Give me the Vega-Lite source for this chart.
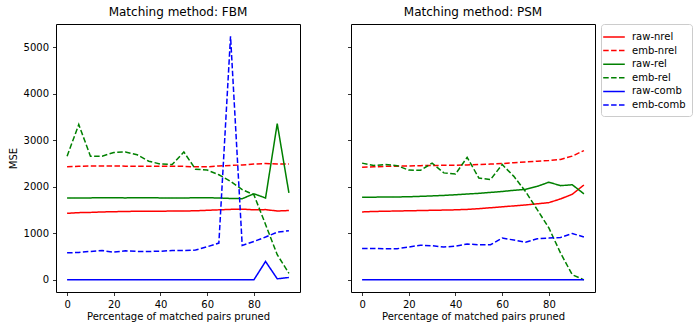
{
  "$schema": "https://vega.github.io/schema/vega-lite/v6.json",
  "padding": {"left": 7, "top": 5, "right": 5, "bottom": 5},
  "datasets": {
    "d": [
      {"m":"FBM","s":"raw-nrel","x":0,"y":1430},{"m":"FBM","s":"raw-nrel","x":5,"y":1445},{"m":"FBM","s":"raw-nrel","x":10,"y":1450},{"m":"FBM","s":"raw-nrel","x":15,"y":1460},{"m":"FBM","s":"raw-nrel","x":20,"y":1465},{"m":"FBM","s":"raw-nrel","x":25,"y":1470},{"m":"FBM","s":"raw-nrel","x":30,"y":1475},{"m":"FBM","s":"raw-nrel","x":35,"y":1475},{"m":"FBM","s":"raw-nrel","x":40,"y":1475},{"m":"FBM","s":"raw-nrel","x":45,"y":1480},{"m":"FBM","s":"raw-nrel","x":50,"y":1480},{"m":"FBM","s":"raw-nrel","x":55,"y":1485},{"m":"FBM","s":"raw-nrel","x":60,"y":1495},{"m":"FBM","s":"raw-nrel","x":65,"y":1505},{"m":"FBM","s":"raw-nrel","x":70,"y":1515},{"m":"FBM","s":"raw-nrel","x":75,"y":1520},{"m":"FBM","s":"raw-nrel","x":80,"y":1505},{"m":"FBM","s":"raw-nrel","x":85,"y":1510},{"m":"FBM","s":"raw-nrel","x":90,"y":1480},{"m":"FBM","s":"raw-nrel","x":95,"y":1490},
      {"m":"FBM","s":"emb-nrel","x":0,"y":2430},{"m":"FBM","s":"emb-nrel","x":5,"y":2440},{"m":"FBM","s":"emb-nrel","x":10,"y":2450},{"m":"FBM","s":"emb-nrel","x":15,"y":2450},{"m":"FBM","s":"emb-nrel","x":20,"y":2450},{"m":"FBM","s":"emb-nrel","x":25,"y":2445},{"m":"FBM","s":"emb-nrel","x":30,"y":2445},{"m":"FBM","s":"emb-nrel","x":35,"y":2445},{"m":"FBM","s":"emb-nrel","x":40,"y":2440},{"m":"FBM","s":"emb-nrel","x":45,"y":2440},{"m":"FBM","s":"emb-nrel","x":50,"y":2440},{"m":"FBM","s":"emb-nrel","x":55,"y":2430},{"m":"FBM","s":"emb-nrel","x":60,"y":2430},{"m":"FBM","s":"emb-nrel","x":65,"y":2450},{"m":"FBM","s":"emb-nrel","x":70,"y":2460},{"m":"FBM","s":"emb-nrel","x":75,"y":2470},{"m":"FBM","s":"emb-nrel","x":80,"y":2490},{"m":"FBM","s":"emb-nrel","x":85,"y":2500},{"m":"FBM","s":"emb-nrel","x":90,"y":2490},{"m":"FBM","s":"emb-nrel","x":95,"y":2490},
      {"m":"FBM","s":"raw-rel","x":0,"y":1760},{"m":"FBM","s":"raw-rel","x":5,"y":1762},{"m":"FBM","s":"raw-rel","x":10,"y":1762},{"m":"FBM","s":"raw-rel","x":15,"y":1765},{"m":"FBM","s":"raw-rel","x":20,"y":1765},{"m":"FBM","s":"raw-rel","x":25,"y":1762},{"m":"FBM","s":"raw-rel","x":30,"y":1765},{"m":"FBM","s":"raw-rel","x":35,"y":1765},{"m":"FBM","s":"raw-rel","x":40,"y":1762},{"m":"FBM","s":"raw-rel","x":45,"y":1762},{"m":"FBM","s":"raw-rel","x":50,"y":1760},{"m":"FBM","s":"raw-rel","x":55,"y":1765},{"m":"FBM","s":"raw-rel","x":60,"y":1765},{"m":"FBM","s":"raw-rel","x":65,"y":1760},{"m":"FBM","s":"raw-rel","x":70,"y":1750},{"m":"FBM","s":"raw-rel","x":75,"y":1745},{"m":"FBM","s":"raw-rel","x":80,"y":1850},{"m":"FBM","s":"raw-rel","x":85,"y":1760},{"m":"FBM","s":"raw-rel","x":90,"y":3360},{"m":"FBM","s":"raw-rel","x":95,"y":1870},
      {"m":"FBM","s":"emb-rel","x":0,"y":2660},{"m":"FBM","s":"emb-rel","x":5,"y":3340},{"m":"FBM","s":"emb-rel","x":10,"y":2660},{"m":"FBM","s":"emb-rel","x":15,"y":2660},{"m":"FBM","s":"emb-rel","x":20,"y":2740},{"m":"FBM","s":"emb-rel","x":25,"y":2750},{"m":"FBM","s":"emb-rel","x":30,"y":2690},{"m":"FBM","s":"emb-rel","x":35,"y":2550},{"m":"FBM","s":"emb-rel","x":40,"y":2490},{"m":"FBM","s":"emb-rel","x":45,"y":2480},{"m":"FBM","s":"emb-rel","x":50,"y":2750},{"m":"FBM","s":"emb-rel","x":55,"y":2380},{"m":"FBM","s":"emb-rel","x":60,"y":2360},{"m":"FBM","s":"emb-rel","x":65,"y":2260},{"m":"FBM","s":"emb-rel","x":70,"y":2120},{"m":"FBM","s":"emb-rel","x":75,"y":1940},{"m":"FBM","s":"emb-rel","x":80,"y":1830},{"m":"FBM","s":"emb-rel","x":85,"y":1190},{"m":"FBM","s":"emb-rel","x":90,"y":540},{"m":"FBM","s":"emb-rel","x":95,"y":140},
      {"m":"FBM","s":"raw-comb","x":0,"y":0},{"m":"FBM","s":"raw-comb","x":5,"y":0},{"m":"FBM","s":"raw-comb","x":10,"y":0},{"m":"FBM","s":"raw-comb","x":15,"y":0},{"m":"FBM","s":"raw-comb","x":20,"y":0},{"m":"FBM","s":"raw-comb","x":25,"y":0},{"m":"FBM","s":"raw-comb","x":30,"y":0},{"m":"FBM","s":"raw-comb","x":35,"y":0},{"m":"FBM","s":"raw-comb","x":40,"y":0},{"m":"FBM","s":"raw-comb","x":45,"y":0},{"m":"FBM","s":"raw-comb","x":50,"y":0},{"m":"FBM","s":"raw-comb","x":55,"y":0},{"m":"FBM","s":"raw-comb","x":60,"y":0},{"m":"FBM","s":"raw-comb","x":65,"y":0},{"m":"FBM","s":"raw-comb","x":70,"y":0},{"m":"FBM","s":"raw-comb","x":75,"y":0},{"m":"FBM","s":"raw-comb","x":80,"y":0},{"m":"FBM","s":"raw-comb","x":85,"y":395},{"m":"FBM","s":"raw-comb","x":90,"y":22},{"m":"FBM","s":"raw-comb","x":95,"y":50},
      {"m":"FBM","s":"emb-comb","x":0,"y":580},{"m":"FBM","s":"emb-comb","x":5,"y":590},{"m":"FBM","s":"emb-comb","x":10,"y":610},{"m":"FBM","s":"emb-comb","x":15,"y":630},{"m":"FBM","s":"emb-comb","x":20,"y":595},{"m":"FBM","s":"emb-comb","x":25,"y":625},{"m":"FBM","s":"emb-comb","x":30,"y":610},{"m":"FBM","s":"emb-comb","x":35,"y":610},{"m":"FBM","s":"emb-comb","x":40,"y":615},{"m":"FBM","s":"emb-comb","x":45,"y":630},{"m":"FBM","s":"emb-comb","x":50,"y":630},{"m":"FBM","s":"emb-comb","x":55,"y":640},{"m":"FBM","s":"emb-comb","x":60,"y":710},{"m":"FBM","s":"emb-comb","x":65,"y":790},{"m":"FBM","s":"emb-comb","x":70,"y":5240},{"m":"FBM","s":"emb-comb","x":75,"y":740},{"m":"FBM","s":"emb-comb","x":80,"y":825},{"m":"FBM","s":"emb-comb","x":85,"y":920},{"m":"FBM","s":"emb-comb","x":90,"y":1025},{"m":"FBM","s":"emb-comb","x":95,"y":1055},
      {"m":"PSM","s":"raw-nrel","x":0,"y":1460},{"m":"PSM","s":"raw-nrel","x":5,"y":1470},{"m":"PSM","s":"raw-nrel","x":10,"y":1475},{"m":"PSM","s":"raw-nrel","x":15,"y":1480},{"m":"PSM","s":"raw-nrel","x":20,"y":1485},{"m":"PSM","s":"raw-nrel","x":25,"y":1490},{"m":"PSM","s":"raw-nrel","x":30,"y":1495},{"m":"PSM","s":"raw-nrel","x":35,"y":1500},{"m":"PSM","s":"raw-nrel","x":40,"y":1505},{"m":"PSM","s":"raw-nrel","x":45,"y":1515},{"m":"PSM","s":"raw-nrel","x":50,"y":1530},{"m":"PSM","s":"raw-nrel","x":55,"y":1550},{"m":"PSM","s":"raw-nrel","x":60,"y":1570},{"m":"PSM","s":"raw-nrel","x":65,"y":1590},{"m":"PSM","s":"raw-nrel","x":70,"y":1610},{"m":"PSM","s":"raw-nrel","x":75,"y":1635},{"m":"PSM","s":"raw-nrel","x":80,"y":1660},{"m":"PSM","s":"raw-nrel","x":85,"y":1740},{"m":"PSM","s":"raw-nrel","x":90,"y":1840},{"m":"PSM","s":"raw-nrel","x":95,"y":2040},
      {"m":"PSM","s":"emb-nrel","x":0,"y":2420},{"m":"PSM","s":"emb-nrel","x":5,"y":2430},{"m":"PSM","s":"emb-nrel","x":10,"y":2440},{"m":"PSM","s":"emb-nrel","x":15,"y":2445},{"m":"PSM","s":"emb-nrel","x":20,"y":2450},{"m":"PSM","s":"emb-nrel","x":25,"y":2455},{"m":"PSM","s":"emb-nrel","x":30,"y":2460},{"m":"PSM","s":"emb-nrel","x":35,"y":2462},{"m":"PSM","s":"emb-nrel","x":40,"y":2465},{"m":"PSM","s":"emb-nrel","x":45,"y":2470},{"m":"PSM","s":"emb-nrel","x":50,"y":2480},{"m":"PSM","s":"emb-nrel","x":55,"y":2490},{"m":"PSM","s":"emb-nrel","x":60,"y":2500},{"m":"PSM","s":"emb-nrel","x":65,"y":2520},{"m":"PSM","s":"emb-nrel","x":70,"y":2535},{"m":"PSM","s":"emb-nrel","x":75,"y":2550},{"m":"PSM","s":"emb-nrel","x":80,"y":2565},{"m":"PSM","s":"emb-nrel","x":85,"y":2590},{"m":"PSM","s":"emb-nrel","x":90,"y":2660},{"m":"PSM","s":"emb-nrel","x":95,"y":2780},
      {"m":"PSM","s":"raw-rel","x":0,"y":1775},{"m":"PSM","s":"raw-rel","x":5,"y":1778},{"m":"PSM","s":"raw-rel","x":10,"y":1780},{"m":"PSM","s":"raw-rel","x":15,"y":1782},{"m":"PSM","s":"raw-rel","x":20,"y":1787},{"m":"PSM","s":"raw-rel","x":25,"y":1795},{"m":"PSM","s":"raw-rel","x":30,"y":1805},{"m":"PSM","s":"raw-rel","x":35,"y":1815},{"m":"PSM","s":"raw-rel","x":40,"y":1830},{"m":"PSM","s":"raw-rel","x":45,"y":1845},{"m":"PSM","s":"raw-rel","x":50,"y":1860},{"m":"PSM","s":"raw-rel","x":55,"y":1880},{"m":"PSM","s":"raw-rel","x":60,"y":1900},{"m":"PSM","s":"raw-rel","x":65,"y":1925},{"m":"PSM","s":"raw-rel","x":70,"y":1945},{"m":"PSM","s":"raw-rel","x":75,"y":2010},{"m":"PSM","s":"raw-rel","x":80,"y":2100},{"m":"PSM","s":"raw-rel","x":85,"y":2025},{"m":"PSM","s":"raw-rel","x":90,"y":2045},{"m":"PSM","s":"raw-rel","x":95,"y":1850},
      {"m":"PSM","s":"emb-rel","x":0,"y":2510},{"m":"PSM","s":"emb-rel","x":5,"y":2460},{"m":"PSM","s":"emb-rel","x":10,"y":2480},{"m":"PSM","s":"emb-rel","x":15,"y":2455},{"m":"PSM","s":"emb-rel","x":20,"y":2360},{"m":"PSM","s":"emb-rel","x":25,"y":2355},{"m":"PSM","s":"emb-rel","x":30,"y":2510},{"m":"PSM","s":"emb-rel","x":35,"y":2300},{"m":"PSM","s":"emb-rel","x":40,"y":2275},{"m":"PSM","s":"emb-rel","x":45,"y":2635},{"m":"PSM","s":"emb-rel","x":50,"y":2190},{"m":"PSM","s":"emb-rel","x":55,"y":2155},{"m":"PSM","s":"emb-rel","x":60,"y":2480},{"m":"PSM","s":"emb-rel","x":65,"y":2225},{"m":"PSM","s":"emb-rel","x":70,"y":1900},{"m":"PSM","s":"emb-rel","x":75,"y":1510},{"m":"PSM","s":"emb-rel","x":80,"y":1115},{"m":"PSM","s":"emb-rel","x":85,"y":575},{"m":"PSM","s":"emb-rel","x":90,"y":110},{"m":"PSM","s":"emb-rel","x":95,"y":0},
      {"m":"PSM","s":"raw-comb","x":0,"y":0},{"m":"PSM","s":"raw-comb","x":5,"y":0},{"m":"PSM","s":"raw-comb","x":10,"y":0},{"m":"PSM","s":"raw-comb","x":15,"y":0},{"m":"PSM","s":"raw-comb","x":20,"y":0},{"m":"PSM","s":"raw-comb","x":25,"y":0},{"m":"PSM","s":"raw-comb","x":30,"y":0},{"m":"PSM","s":"raw-comb","x":35,"y":0},{"m":"PSM","s":"raw-comb","x":40,"y":0},{"m":"PSM","s":"raw-comb","x":45,"y":0},{"m":"PSM","s":"raw-comb","x":50,"y":0},{"m":"PSM","s":"raw-comb","x":55,"y":0},{"m":"PSM","s":"raw-comb","x":60,"y":0},{"m":"PSM","s":"raw-comb","x":65,"y":0},{"m":"PSM","s":"raw-comb","x":70,"y":0},{"m":"PSM","s":"raw-comb","x":75,"y":0},{"m":"PSM","s":"raw-comb","x":80,"y":0},{"m":"PSM","s":"raw-comb","x":85,"y":0},{"m":"PSM","s":"raw-comb","x":90,"y":0},{"m":"PSM","s":"raw-comb","x":95,"y":0},
      {"m":"PSM","s":"emb-comb","x":0,"y":675},{"m":"PSM","s":"emb-comb","x":5,"y":675},{"m":"PSM","s":"emb-comb","x":10,"y":668},{"m":"PSM","s":"emb-comb","x":15,"y":670},{"m":"PSM","s":"emb-comb","x":20,"y":705},{"m":"PSM","s":"emb-comb","x":25,"y":745},{"m":"PSM","s":"emb-comb","x":30,"y":732},{"m":"PSM","s":"emb-comb","x":35,"y":705},{"m":"PSM","s":"emb-comb","x":40,"y":725},{"m":"PSM","s":"emb-comb","x":45,"y":768},{"m":"PSM","s":"emb-comb","x":50,"y":755},{"m":"PSM","s":"emb-comb","x":55,"y":755},{"m":"PSM","s":"emb-comb","x":60,"y":897},{"m":"PSM","s":"emb-comb","x":65,"y":855},{"m":"PSM","s":"emb-comb","x":70,"y":810},{"m":"PSM","s":"emb-comb","x":75,"y":883},{"m":"PSM","s":"emb-comb","x":80,"y":897},{"m":"PSM","s":"emb-comb","x":85,"y":912},{"m":"PSM","s":"emb-comb","x":90,"y":998},{"m":"PSM","s":"emb-comb","x":95,"y":920}
    ]
  },
  "data": {"name": "d"},
  "spacing": 45,
  "hconcat": [
    {
      "width": 244, "height": 268,
      "title": "Matching method: FBM",
      "transform": [{"filter": "datum.m === 'FBM'"}],
      "mark": {"type": "line", "strokeWidth": 1.5, "clip": true},
      "encoding": {
        "x": {"field": "x", "type": "quantitative", "scale": {"domain": [-4.75, 99.75], "nice": false, "zero": false}, "axis": {"values": [0,20,40,60,80], "title": "Percentage of matched pairs pruned", "titlePadding": 2}},
        "y": {"field": "y", "type": "quantitative", "scale": {"domain": [-262, 5502], "nice": false, "zero": false}, "axis": {"values": [0,1000,2000,3000,4000,5000], "format": "d", "title": "MSE"}},
        "color": {"field": "s", "type": "nominal", "sort": ["raw-nrel","emb-nrel","raw-rel","emb-rel","raw-comb","emb-comb"], "scale": {"domain": ["raw-nrel","emb-nrel","raw-rel","emb-rel","raw-comb","emb-comb"], "range": ["#ff0000","#ff0000","#008000","#008000","#0000ff","#0000ff"]}},
        "strokeDash": {"field": "s", "type": "nominal", "sort": ["raw-nrel","emb-nrel","raw-rel","emb-rel","raw-comb","emb-comb"], "scale": {"domain": ["raw-nrel","emb-nrel","raw-rel","emb-rel","raw-comb","emb-comb"], "range": [[1,0],[5.5,2.4],[1,0],[5.5,2.4],[1,0],[5.5,2.4]]}}
      }
    },
    {
      "width": 244, "height": 268,
      "title": "Matching method: PSM",
      "transform": [{"filter": "datum.m === 'PSM'"}],
      "mark": {"type": "line", "strokeWidth": 1.5, "clip": true},
      "encoding": {
        "x": {"field": "x", "type": "quantitative", "scale": {"domain": [-4.75, 99.75], "nice": false, "zero": false}, "axis": {"values": [0,20,40,60,80], "title": "Percentage of matched pairs pruned", "titlePadding": 2}},
        "y": {"field": "y", "type": "quantitative", "scale": {"domain": [-262, 5502], "nice": false, "zero": false}, "axis": {"values": [0,1000,2000,3000,4000,5000], "labels": false, "title": null}},
        "color": {"field": "s", "type": "nominal", "sort": ["raw-nrel","emb-nrel","raw-rel","emb-rel","raw-comb","emb-comb"], "scale": {"domain": ["raw-nrel","emb-nrel","raw-rel","emb-rel","raw-comb","emb-comb"], "range": ["#ff0000","#ff0000","#008000","#008000","#0000ff","#0000ff"]}},
        "strokeDash": {"field": "s", "type": "nominal", "sort": ["raw-nrel","emb-nrel","raw-rel","emb-rel","raw-comb","emb-comb"], "scale": {"domain": ["raw-nrel","emb-nrel","raw-rel","emb-rel","raw-comb","emb-comb"], "range": [[1,0],[5.5,2.4],[1,0],[5.5,2.4],[1,0],[5.5,2.4]]}}
      }
    }
  ],
  "resolve": {"scale": {"color": "shared", "strokeDash": "shared"}},
  "config": {
    "font": "DejaVu Sans",
    "view": {"stroke": "black", "strokeWidth": 1},
    "title": {"fontSize": 12, "fontWeight": "normal", "color": "black", "offset": 5},
    "axis": {"grid": false, "domain": false, "tickColor": "black", "tickSize": 3.5, "tickWidth": 0.8, "labelFontSize": 10, "labelColor": "black", "labelPadding": 4, "titleFontSize": 10, "titleFontWeight": "normal", "titleColor": "black", "titlePadding": 5},
    "legend": {"title": null, "orient": "right", "offset": 5, "labelFontSize": 10, "labelColor": "black", "symbolType": "M-1.8,0H1.8", "symbolSize": 144, "symbolStrokeWidth": 1.5, "symbolFillColor": "transparent", "strokeColor": "#cccccc", "strokeWidth": 1, "fillColor": "white", "cornerRadius": 3, "padding": 6, "rowPadding": 1.6, "labelOffset": 11}
  }
}
